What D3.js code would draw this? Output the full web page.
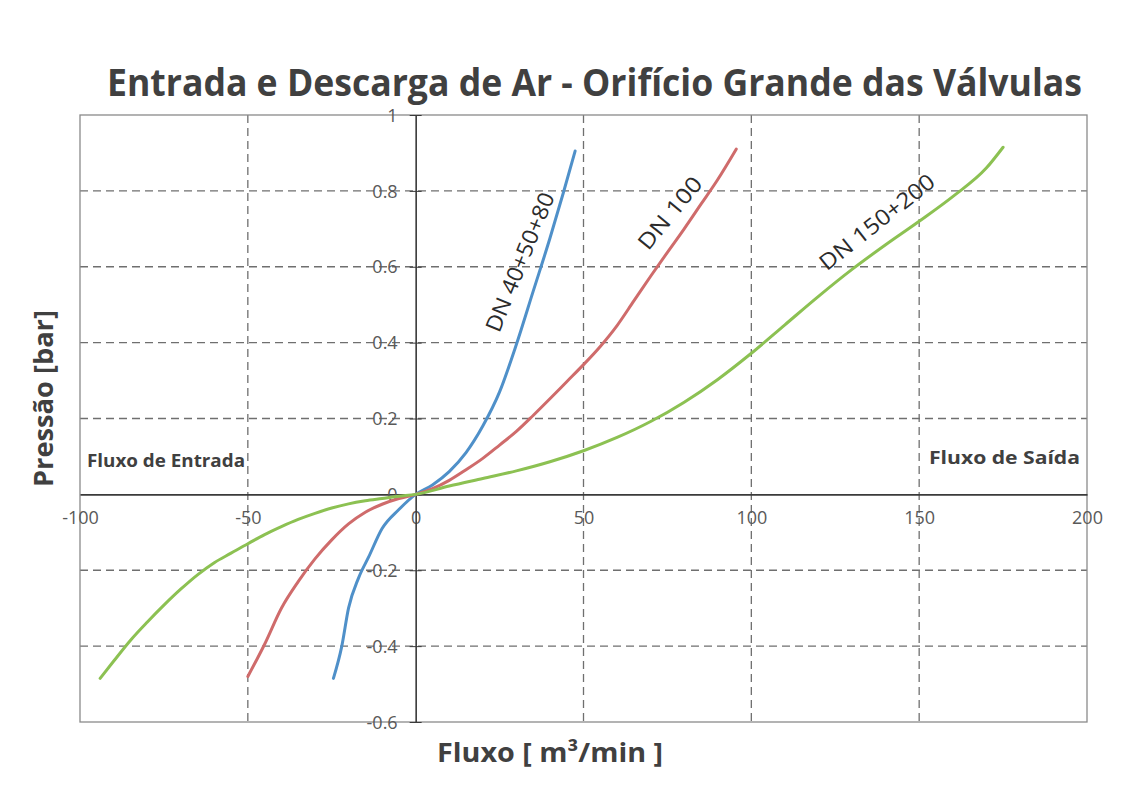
<!DOCTYPE html>
<html><head><meta charset="utf-8">
<script src="https://cdn.jsdelivr.net/npm/d3@7"></script>
<style>body{margin:0;background:#fff}svg{display:block}</style>
</head><body>
<svg id="c" width="1123" height="795"></svg>
<script>
const xTicks = [-100,-50,0,50,100,150,200];
const xTickLabels = ["-100","-50","0","50","100","150","200"];
const yTicks = [1,0.8,0.6,0.4,0.2,0,-0.2,-0.4,-0.6];
const yTickLabels = ["1","0.8","0.6","0.4","0.2","0","-0.2","-0.4","-0.6"];
const seriesNames = ["DN 40+50+80","DN 100","DN 150+200"];
const blue = [[-24.5,-0.485],[-22,-0.4],[-20,-0.3],[-17,-0.22],[-14,-0.165],[-10,-0.09],[-5,-0.04],[0,0],[5,0.025],[10,0.06],[15,0.11],[20,0.18],[25,0.27],[30,0.395],[35,0.535],[40,0.675],[44,0.795],[47.5,0.905]];
const red = [[-50,-0.48],[-45,-0.395],[-40,-0.3],[-35,-0.23],[-30,-0.17],[-25,-0.12],[-20,-0.078],[-15,-0.047],[-10,-0.026],[-5,-0.011],[0,0],[5,0.015],[10,0.037],[15,0.065],[20,0.095],[25,0.13],[30,0.166],[35,0.208],[40,0.252],[45,0.297],[50,0.342],[55,0.39],[60,0.445],[65,0.51],[70,0.575],[75,0.638],[80,0.7],[85,0.765],[90,0.83],[95.5,0.91]];
const green = [[-94,-0.485],[-90,-0.44],[-85,-0.385],[-80,-0.337],[-75,-0.292],[-70,-0.25],[-65,-0.212],[-60,-0.18],[-55,-0.155],[-50,-0.13],[-45,-0.106],[-40,-0.085],[-35,-0.066],[-30,-0.05],[-25,-0.036],[-20,-0.025],[-15,-0.017],[-10,-0.011],[-5,-0.005],[0,0],[10,0.022],[20,0.042],[30,0.062],[40,0.086],[50,0.115],[60,0.15],[70,0.192],[80,0.243],[90,0.303],[100,0.372],[110,0.447],[120,0.522],[130,0.593],[140,0.658],[150,0.72],[160,0.785],[170,0.86],[175,0.915]];
const colors = ["#4f90c9","#cf6b6b","#8cc152"];

const svg = d3.select("#c");
const L=80, R=1087, T=115, B=722;
const x = d3.scaleLinear().domain([-100,200]).range([L,R]);
const y = d3.scaleLinear().domain([-0.6,1]).range([B,T]);
const font = "'Open Sans', 'Liberation Sans', sans-serif";
const grey = "#595959";

// grid
const g = svg.append("g");
g.selectAll("line.v").data(xTicks.filter(d=>d!==0 && d!==-100 && d!==200)).join("line")
  .attr("x1",d=>x(d)).attr("x2",d=>x(d)).attr("y1",T).attr("y2",B)
  .attr("stroke","#6f6f6f").attr("stroke-width",1.3).attr("stroke-dasharray","8,5");
g.selectAll("line.h").data(yTicks.filter(d=>d!==0 && d!==1 && d!==-0.6)).join("line")
  .attr("y1",d=>y(d)).attr("y2",d=>y(d)).attr("x1",L).attr("x2",R)
  .attr("stroke","#6f6f6f").attr("stroke-width",1.3).attr("stroke-dasharray","8,5");
// frame
svg.append("rect").attr("x",L).attr("y",T).attr("width",R-L).attr("height",B-T)
  .attr("fill","none").attr("stroke","#8a8a8a").attr("stroke-width",1.3);

// axes through zero
const xAxis = d3.axisBottom(x).tickValues(xTicks).tickSize(0).tickPadding(24).tickFormat((d,i)=>xTickLabels[i]);
const yAxis = d3.axisLeft(y).tickValues(yTicks).tickSizeInner(6).tickSizeOuter(0).tickPadding(12).tickFormat((d,i)=>yTickLabels[i]);
const gx = svg.append("g").attr("transform",`translate(0,${y(0)})`).call(xAxis);
const gy = svg.append("g").attr("transform",`translate(${x(0)},0)`).call(yAxis);
[gx,gy].forEach(a=>{
  a.select(".domain").attr("stroke","#3a3a3a").attr("stroke-width",1.6);
  a.selectAll("text").attr("font-family",font).attr("font-size",18).attr("fill",grey);
  a.selectAll(".tick line").attr("stroke","#3a3a3a");
});
gy.selectAll(".tick line").attr("x2",6).attr("x1",-6);
gx.selectAll(".tick text").attr("dy","0.32em");
gy.selectAll(".tick text").attr("dy","0.34em");

// lines
const line = d3.line().x(d=>x(d[0])).y(d=>y(d[1])).curve(d3.curveMonotoneX);
[blue,red,green].forEach((s,i)=>{
  svg.append("path").datum(s).attr("d",line).attr("fill","none")
    .attr("stroke",colors[i]).attr("stroke-width",3).attr("stroke-linecap","round");
});

// series labels
const labs = [{cx:520,cy:262,a:-67.8,len:148},{cx:670,cy:213,a:-50.6,len:87},{cx:877,cy:222,a:-38.3,len:140}];
labs.forEach((p,i)=>{
  svg.append("text").attr("transform",`translate(${p.cx},${p.cy}) rotate(${p.a})`)
    .attr("text-anchor","middle").attr("dy","0.35em")
    .attr("font-family",font).attr("font-size",22).attr("fill","#2b2b2b")
    .attr("textLength",p.len).attr("lengthAdjust","spacingAndGlyphs")
    .text(seriesNames[i]);
});

// titles
svg.append("text").attr("x",107).attr("y",96).attr("font-family",font).attr("font-weight","bold")
  .attr("font-size",38).attr("fill","#404040").attr("textLength",975).attr("lengthAdjust","spacingAndGlyphs")
  .text("Entrada e Descarga de Ar - Orifício Grande das Válvulas");
svg.append("text").attr("x",437).attr("y",762).attr("font-family",font).attr("font-weight","bold")
  .attr("font-size",27).attr("fill","#404040").attr("textLength",226).attr("lengthAdjust","spacingAndGlyphs")
  .text("Fluxo [ m³/min ]");
svg.append("text").attr("transform","translate(53,487) rotate(-90)").attr("font-family",font).attr("font-weight","bold")
  .attr("font-size",27).attr("fill","#404040").attr("textLength",177).attr("lengthAdjust","spacingAndGlyphs")
  .text("Pressão [bar]");
svg.append("text").attr("x",87).attr("y",467).attr("font-family",font).attr("font-weight","bold")
  .attr("font-size",18).attr("fill","#404040").attr("textLength",158).attr("lengthAdjust","spacingAndGlyphs")
  .text("Fluxo de Entrada");
svg.append("text").attr("x",929).attr("y",464).attr("font-family",font).attr("font-weight","bold")
  .attr("font-size",18).attr("fill","#404040").attr("textLength",151).attr("lengthAdjust","spacingAndGlyphs")
  .text("Fluxo de Saída");
</script>
</body></html>
